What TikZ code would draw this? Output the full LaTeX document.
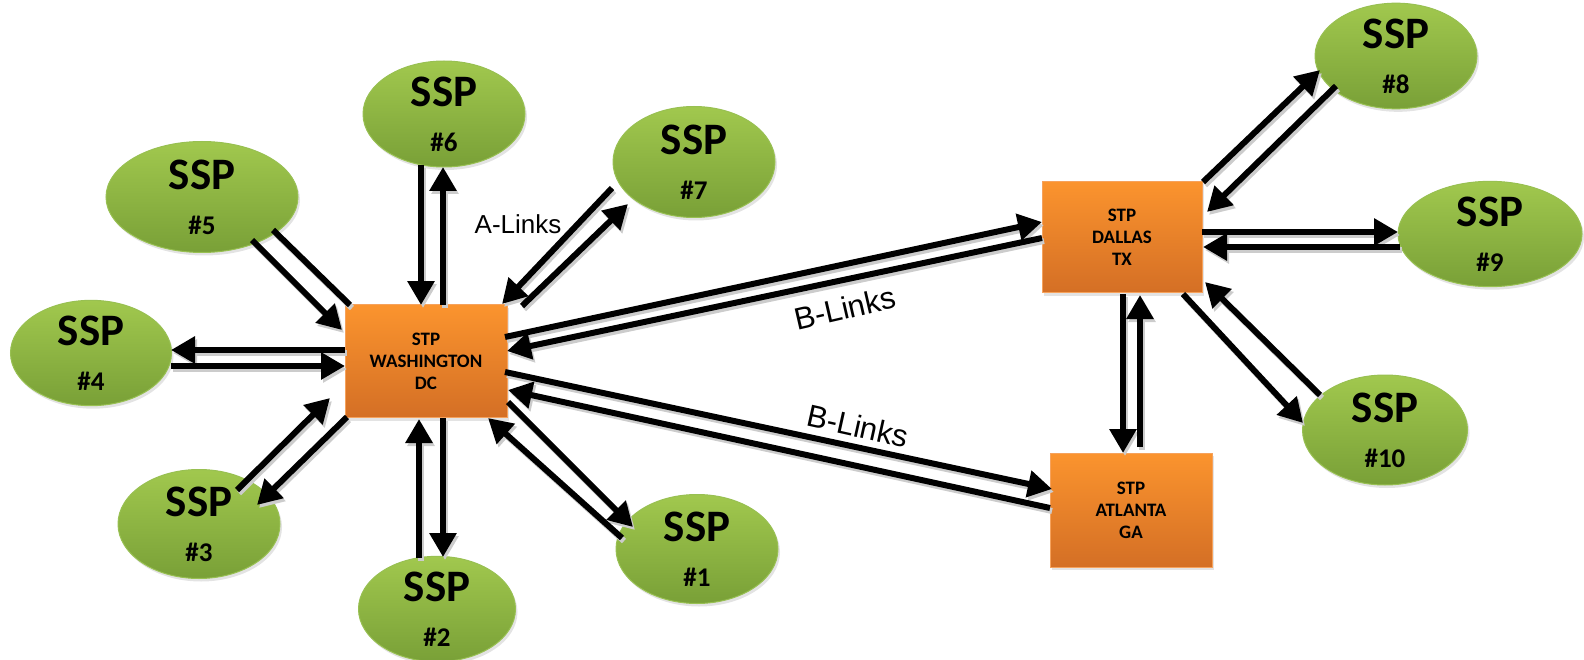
\documentclass[tikz,border=0pt]{standalone}
\usepackage{fontspec}
\setmainfont{Carlito}
\newfontfamily\arialf{Liberation Sans}
\usetikzlibrary{arrows.meta,shapes.geometric,shadows}
\definecolor{gtop}{RGB}{161,200,78}
\definecolor{gbot}{RGB}{121,160,55}
\definecolor{gline}{RGB}{152,192,82}
\definecolor{otop}{RGB}{251,148,46}
\definecolor{obot}{RGB}{212,111,37}
\definecolor{oline}{RGB}{246,162,92}
\tikzset{
  ssp/.style={ellipse, draw=gline, line width=1pt, top color=gtop, bottom color=gbot,
    inner sep=0pt, align=center, font=\fontsize{45}{45}\selectfont\bfseries,
    drop shadow={shadow xshift=2pt, shadow yshift=-3pt, opacity=0.22}},
  stp/.style={rectangle, draw=oline, line width=1pt, top color=otop, bottom color=obot,
    align=center, font=\fontsize{19}{22}\selectfont\bfseries,
    minimum width=162pt, minimum height=113pt,
    drop shadow={shadow xshift=2pt, shadow yshift=-3pt, opacity=0.22}},
  lnkline/.style={line width=6pt, draw=black},
  lnk/.style={lnkline, -{Triangle[length=24pt,width=26pt]}},
  lnkshadow/.style={lnk, draw=black!20, transform canvas={shift={(2pt,-3pt)}}},
  lnklineshadow/.style={lnkline, draw=black!20, transform canvas={shift={(2pt,-3pt)}}},
  lbl/.style={font=\arialf\fontsize{26}{30}\selectfont, inner sep=0pt},
  blbl/.style={font=\arialf\fontsize{31}{35}\selectfont, inner sep=0pt},
}
\newcommand{\nm}[1]{\\{\fontsize{27}{45}\selectfont\##1}}
\newcommand{\lk}[6]{%
  \draw[lnkshadow] ([shift={(#2,#3)}]#1.center) -- ([shift={(#5,#6)}]#4.center);
  \draw[lnk] ([shift={(#2,#3)}]#1.center) -- ([shift={(#5,#6)}]#4.center);}
\newcommand{\lkp}[6]{%
  \draw[lnklineshadow] ([shift={(#2,#3)}]#1.center) -- ([shift={(#5,#6)}]#4.center);
  \draw[lnkline] ([shift={(#2,#3)}]#1.center) -- ([shift={(#5,#6)}]#4.center);}
\begin{document}
\begin{tikzpicture}[x=1pt,y=-1pt]
\useasboundingbox (0,0) rectangle (1584,660);
% STP boxes
\node[stp] (w) at (426,361) {STP\\WASHINGTON\\DC};
\node[stp, minimum width=160pt, minimum height=111pt] (d) at (1122,237) {STP\\DALLAS\\TX};
\node[stp, minimum height=114pt] (a) at (1131,510) {STP\\ATLANTA\\GA};
% SSP ellipses
\node[ssp, minimum width=162pt, minimum height=109pt] (s1) at (697,549) {SSP\nm{1}};
\node[ssp, minimum width=157pt, minimum height=104pt] (s2) at (437,609) {SSP\nm{2}};
\node[ssp, minimum width=162pt, minimum height=109pt] (s3) at (199,524) {SSP\nm{3}};
\node[ssp, minimum width=161pt, minimum height=104pt] (s4) at (91,353) {SSP\nm{4}};
\node[ssp, minimum width=192pt, minimum height=111pt] (s5) at (202,197) {SSP\nm{5}};
\node[ssp, minimum width=162pt, minimum height=106pt] (s6) at (444,114) {SSP\nm{6}};
\node[ssp, minimum width=162pt, minimum height=111pt] (s7) at (694,162) {SSP\nm{7}};
\node[ssp, minimum width=162pt, minimum height=102pt] (s8) at (1396,56) {SSP\nm{8}};
\node[ssp, minimum width=184pt, minimum height=103pt] (s9) at (1490,234) {SSP\nm{9}};
\node[ssp, minimum width=165pt, minimum height=110pt] (s10) at (1385,430) {SSP\nm{10}};
% links
\lk{s6}{-23}{51}{w}{-5}{-56}
\lk{w}{17}{-56}{s6}{-1}{53}
\lk{s2}{-18}{-51}{w}{-7}{58}
\lk{w}{17}{57}{s2}{6}{-52}
\lk{w}{-81}{-11}{s4}{80}{-3}
\lk{s4}{80}{13}{w}{-81}{5}
\lk{d}{80}{-5}{s9}{-92}{-2}
\lk{s9}{-90}{13}{d}{81}{10}
\lk{d}{81}{-55}{s8}{-76}{14}
\lk{s8}{-60}{30}{d}{85}{-25}
\lk{d}{61}{57}{s10}{-82}{-7}
\lk{s10}{-65}{-35}{d}{83}{45}
\lk{d}{1}{57}{a}{-8}{-57}
\lk{a}{9}{-63}{d}{18}{58}
\lk{s7}{-82}{26}{w}{76}{-57}
\lk{w}{96}{-55}{s7}{-66}{42}
\lk{w}{82}{41}{s1}{-64}{-22}
\lk{s1}{-75}{-11}{w}{62}{57}
\lk{w}{79}{-24}{d}{-80}{-15}
\lk{d}{-80}{1}{w}{81}{-10}
\lk{w}{79}{11}{a}{-79}{-21}
\lk{a}{-81}{-2}{w}{82}{29}
\lk{s5}{50}{43}{w}{-84}{-31}
\lkp{s5}{71}{33}{w}{-76}{-56}
\lk{s3}{38}{-34}{w}{-96}{37}
\lk{w}{-79}{56}{s3}{58}{-19}
% labels
\node[lbl] (al) at (518,224) {A-Links};
\node[blbl, rotate=13] (bl1) at (845,308) {B-Links};
\node[blbl, rotate=-12.5] (bl2) at (858,426) {B-Links};
\end{tikzpicture}
\end{document}
